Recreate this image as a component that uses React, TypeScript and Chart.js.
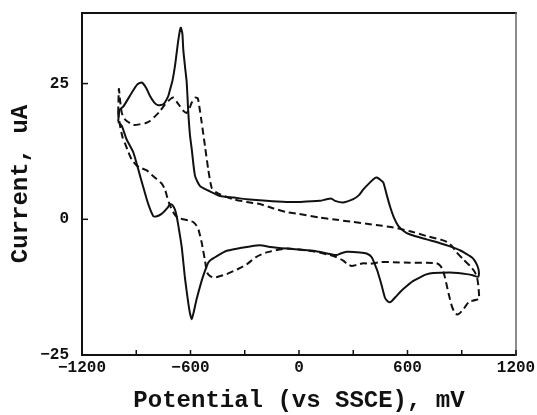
import React, { useEffect, useRef } from "react";
import { Chart, registerables } from "chart.js";

Chart.register(...registerables);

// ---- Data ----
const solidX = [
  -1000, -992, -971, -925, -895, -870, -845, -824, -800, -778, -750, -723, -713, -700, -686, -667, -654, -645, -640, -630,
  -621, -612, -603, -593, -575, -547, -502, -437, -360, -289, -180, -68, 6, 116, 153, 180, 199, 245, 300, 330,
  356, 393, 420, 430, 445, 466, 485, 503, 525, 549, 580, 614, 706, 780, 835, 890, 927, 955, 973, 988, 995,
  990, 960, 927, 880, 835, 743, 700, 669, 630, 596, 565, 540, 515, 503, 490, 476, 458, 440, 430,
  402, 374, 337, 264, 230, 208, 171, 79, -68, -160, -216, -270, -326, -400, -455, -485, -502, -520, -538, -566,
  -583, -593, -603, -612, -630, -649, -667, -678, -686, -700, -713, -725, -760, -790, -806, -825, -842, -879, -916, -953,
  -980, -1000,
];
const solidY = [
  18.0, 20.2, 20.8, 23.3, 24.8, 25.2, 24.2, 22.7, 21.5, 21.0, 21.2, 22.7, 23.9, 25.5, 28.2, 33.1, 35.3, 34.2, 31.3, 28.0,
  25.2, 19.6, 15.5, 12.9, 8.0, 6.1, 5.3, 4.3, 4.0, 3.7, 3.4, 3.2, 3.2, 3.4, 3.7, 3.8, 3.4, 3.1, 3.7, 4.4,
  5.5, 6.8, 7.6, 7.7, 7.4, 6.8, 4.5, 2.4, 0.3, -1.2, -2.2, -2.8, -3.7, -4.4, -5.0, -5.7, -6.4, -7.0, -7.7, -8.7, -9.8,
  -10.6, -10.3, -10.1, -9.9, -9.8, -9.9, -10.2, -10.7, -11.4, -12.3, -13.2, -14.1, -15.0, -15.3, -15.1, -14.5, -12.3, -10.2, -9.2,
  -7.0, -6.3, -6.1, -6.0, -6.3, -6.6, -6.4, -5.8, -5.4, -5.1, -4.8, -5.0, -5.3, -5.8, -6.8, -7.4, -8.0, -9.5, -11.3, -14.7,
  -17.2, -18.4, -17.3, -15.5, -11.0, -5.0, -1.2, 0.8, 1.8, 2.6, 2.8, 2.2, 1.0, 0.5, 0.6, 2.0, 3.7, 8.0, 12.3, 14.7,
  17.2, 18.0,
];

const dashedX = [
  -1000, -996, -990, -980, -965, -953, -915, -879, -850, -824, -795, -769, -745, -723, -705, -695, -675, -658, -640, -621,
  -605, -593, -575, -560, -550, -538, -520, -502, -483, -460, -437, -363, -290, -216, -140, -68, 0, 116, 210, 300,
  393, 460, 521, 614, 706, 789, 820, 845, 872, 909, 946, 972, 985, 992, 996,
  985, 960, 946, 925, 909, 885, 872, 858, 845, 826, 807, 795, 780, 760, 706, 614, 521, 448, 393, 356,
  320, 291, 265, 245, 208, 171, 79, -68, -179, -240, -289, -340, -400, -440, -464, -490, -508, -520, -538, -555,
  -566, -585, -603, -640, -667, -690, -713, -730, -741, -760, -787, -815, -842, -870, -898, -925, -945, -960, -975, -990,
  -1000,
];
const dashedY = [
  19.5, 24.0, 22.1, 19.6, 18.5, 18.1, 17.4, 17.5, 17.7, 18.1, 19.0, 19.9, 21.0, 21.8, 22.3, 22.4, 21.6, 20.8, 20.0, 19.6,
  20.5, 21.5, 22.4, 22.3, 20.5, 17.8, 13.5, 9.2, 5.8, 5.0, 4.6, 3.7, 3.2, 2.8, 2.0, 1.3, 1.0, 0.3, -0.1, -0.5,
  -0.9, -1.2, -1.5, -2.2, -3.1, -3.8, -4.2, -4.9, -6.1, -7.4, -8.6, -9.7, -10.8, -12.3, -14.7,
  -14.8, -15.0, -15.0, -15.8, -16.6, -17.4, -17.5, -17.0, -16.0, -13.5, -10.7, -9.3, -8.5, -8.1, -8.0, -8.0, -7.9, -7.9, -8.2, -8.1,
  -8.4, -8.6, -8.2, -7.6, -7.0, -6.6, -5.9, -5.4, -6.1, -7.0, -8.3, -9.2, -10.1, -10.5, -10.7, -10.5, -9.8, -7.6, -4.3, -2.0,
  -1.2, -0.5, -0.3, 0.0, 0.2, 1.0, 2.5, 4.2, 5.5, 6.6, 7.4, 8.2, 9.0, 9.4, 9.9, 11.0, 12.5, 13.8, 15.0, 17.3,
  19.5,
];

const xLabelTicks = [-1200, -600, 0, 600, 1200];
const xMinorTicks = [-900, -300, 300, 900];
const yLabelTicks = [-25, 0, 25];
const xTitle = "Potential (vs SSCE), mV";
const yTitle = "Current, uA";

const FONT = "'Liberation Mono', 'DejaVu Sans Mono', monospace";
const INK = "#111";

const toPoints = (xs: number[], ys: number[]) => xs.map((x, i) => ({ x, y: ys[i] }));

const framePlugin = {
  id: "frameTicks",
  afterDatasetsDraw(chart: any) {
    const { ctx, chartArea } = chart;
    const { left, right, top, bottom } = chartArea;
    const xs = chart.scales.x;
    const ys = chart.scales.y;
    ctx.save();
    ctx.lineCap = "square";
    ctx.strokeStyle = INK;
    ctx.lineWidth = 2;
    ctx.beginPath();
    ctx.moveTo(left, top);
    ctx.lineTo(left, bottom);
    ctx.lineTo(right, bottom);
    ctx.stroke();
    ctx.beginPath();
    ctx.moveTo(left, top);
    ctx.lineTo(right, top);
    ctx.stroke();
    ctx.strokeStyle = "#666";
    ctx.lineWidth = 1.5;
    ctx.beginPath();
    ctx.moveTo(right, top);
    ctx.lineTo(right, bottom);
    ctx.stroke();
    ctx.strokeStyle = INK;
    ctx.lineWidth = 1.5;
    ctx.lineCap = "butt";
    [...xLabelTicks, ...xMinorTicks].forEach((v) => {
      const px = xs.getPixelForValue(v);
      ctx.beginPath();
      ctx.moveTo(px, bottom);
      ctx.lineTo(px, bottom - 5);
      ctx.stroke();
    });
    yLabelTicks.forEach((v) => {
      const py = ys.getPixelForValue(v);
      ctx.beginPath();
      ctx.moveTo(left, py);
      ctx.lineTo(left + 6, py);
      ctx.stroke();
    });
    ctx.restore();
  },
};

export default function App() {
  const ref = useRef<HTMLCanvasElement | null>(null);

  useEffect(() => {
    if (!ref.current) return;
    const chart = new Chart(ref.current, {
      type: "scatter",
      data: {
        datasets: [
          {
            data: toPoints(solidX, solidY),
            showLine: true,
            borderColor: INK,
            borderWidth: 2,
            pointRadius: 0,
            fill: false,
            tension: 0.2,
          },
          {
            data: toPoints(dashedX, dashedY),
            showLine: true,
            borderColor: INK,
            borderWidth: 2,
            borderDash: [7, 4],
            pointRadius: 0,
            fill: false,
            tension: 0.2,
          },
        ],
      },
      options: {
        responsive: false,
        animation: false,
        layout: { padding: { left: 0, top: 13, right: 21, bottom: 0 } },
        plugins: { legend: { display: false }, tooltip: { enabled: false } },
        scales: {
          x: {
            type: "linear",
            min: -1200,
            max: 1200,
            afterBuildTicks: (s: any) => {
              s.ticks = xLabelTicks.map((value) => ({ value }));
            },
            afterFit: (s: any) => {
              s.height = 60;
              s.paddingLeft = 0;
              s.paddingRight = 0;
            },
            grid: { display: false, drawTicks: false },
            border: { display: false },
            ticks: {
              autoSkip: false,
              maxRotation: 0,
              padding: 3,
              color: INK,
              font: { family: FONT, size: 16, weight: "bold" },
              callback: (v: any) => (v < 0 ? "\u2212" + Math.abs(v) : String(v)),
            },
            title: {
              display: true,
              text: xTitle,
              color: INK,
              font: { family: FONT, size: 24, weight: "bold" },
              padding: { top: 0, bottom: 0 },
            },
          },
          y: {
            type: "linear",
            min: -25,
            max: 38,
            afterBuildTicks: (s: any) => {
              s.ticks = yLabelTicks.map((value) => ({ value }));
            },
            afterFit: (s: any) => {
              s.width = 82;
              s.paddingTop = 0;
              s.paddingBottom = 0;
            },
            grid: { display: false, drawTicks: false },
            border: { display: false },
            ticks: {
              padding: 13,
              color: INK,
              font: { family: FONT, size: 16, weight: "bold" },
              callback: (v: any) => (v < 0 ? "\u2212" + Math.abs(v) : String(v)),
            },
            title: {
              display: true,
              text: yTitle,
              color: INK,
              font: { family: FONT, size: 24, weight: "bold" },
              padding: { top: 7, bottom: 0 },
            },
          },
        },
      },
      plugins: [framePlugin],
    } as any);
    return () => chart.destroy();
  }, []);

  return (
    <div style={{ position: "absolute", left: 0, top: 0, width: 537, height: 415, background: "#fff" }}>
      <canvas ref={ref} width={537} height={415} style={{ display: "block" }} />
    </div>
  );
}
